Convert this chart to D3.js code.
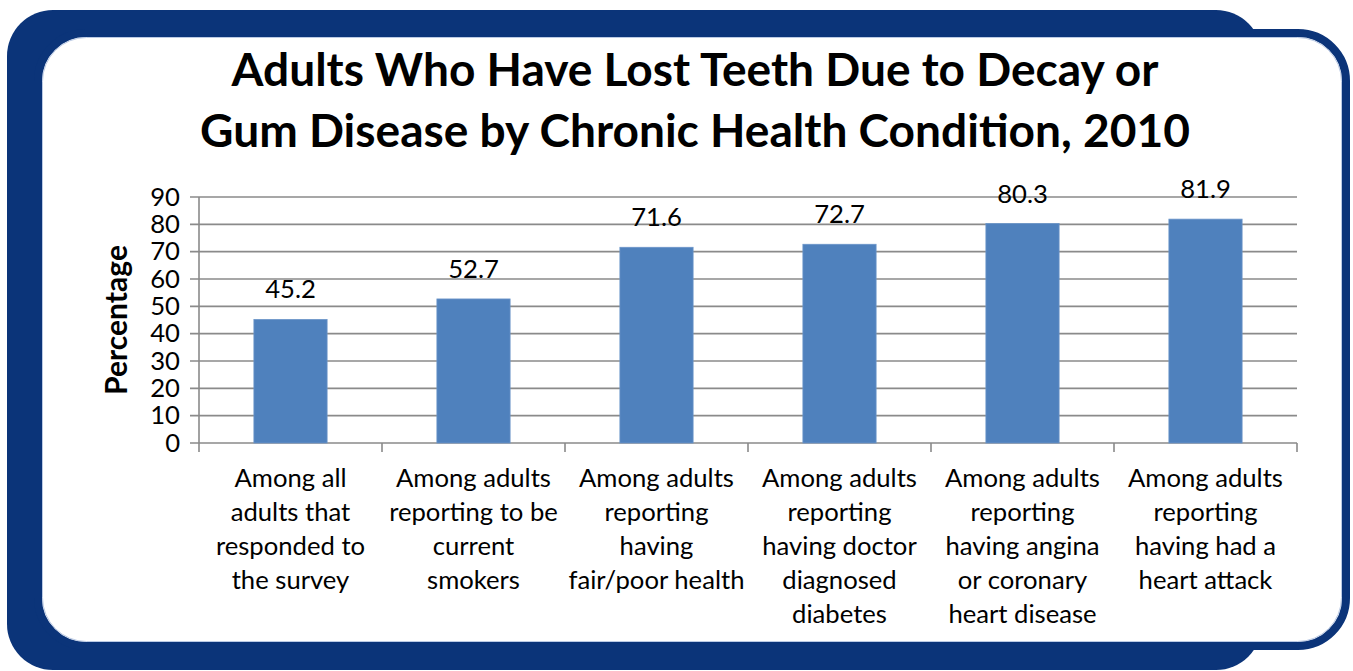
<!DOCTYPE html>
<html>
<head>
<meta charset="utf-8">
<script src="https://cdn.jsdelivr.net/npm/d3@7/dist/d3.min.js"></script>
<style>
  html, body { margin: 0; padding: 0; background: #ffffff; }
  svg { display: block; }
  text { font-family: Lato, "Open Sans", "Noto Sans", sans-serif; fill: #000; }
</style>
</head>
<body>
<svg id="chart" width="1353" height="671"></svg>
<script>
// Chart content
const titleLines = [
  "Adults Who Have Lost Teeth Due to Decay or",
  "Gum Disease by Chronic Health Condition, 2010"
];
const categories = [
  ["Among all", "adults that", "responded to", "the survey"],
  ["Among adults", "reporting to be", "current", "smokers"],
  ["Among adults", "reporting", "having", "fair/poor health"],
  ["Among adults", "reporting", "having doctor", "diagnosed", "diabetes"],
  ["Among adults", "reporting", "having angina", "or coronary", "heart disease"],
  ["Among adults", "reporting", "having had a", "heart attack"]
];
const values = [45.2, 52.7, 71.6, 72.7, 80.3, 81.9];
const yTicks = [0, 10, 20, 30, 40, 50, 60, 70, 80, 90];
const yAxisTitle = "Percentage";

const svg = d3.select("#chart");
const navy = "#0b3479";
const gridColor = "#8a8a8a";

// Measure a string at a given size, used to size text to its line width
function fitSize(str, weight, targetWidth) {
  const t = svg.append("text").attr("font-size", 40).attr("font-weight", weight).text(str);
  const w = t.node().getComputedTextLength();
  t.remove();
  return 40 * targetWidth / w;
}
const bodySize = fitSize("Among adults", "normal", 155);

// Frame: solid navy panel with an outlined white card on top
svg.append("rect")
  .attr("x", 7).attr("y", 10).attr("width", 1255).attr("height", 660)
  .attr("rx", 46).attr("ry", 46)
  .attr("fill", navy);
svg.append("rect")
  .attr("x", 38).attr("y", 33).attr("width", 1308).attr("height", 613)
  .attr("rx", 48).attr("ry", 48)
  .attr("fill", "#ffffff").attr("stroke", navy).attr("stroke-width", 8);
svg.append("rect")
  .attr("x", 42.5).attr("y", 37.5).attr("width", 1299).attr("height", 604)
  .attr("rx", 44).attr("ry", 44)
  .attr("fill", "none").attr("stroke", "#a9bcdd").attr("stroke-width", 0.8);

// Title, sized to fill its line width
const titleWidths = [927, 990];
const titleBase = [86, 147];
titleLines.forEach((line, i) => {
  svg.append("text")
    .attr("x", 695).attr("y", titleBase[i])
    .attr("text-anchor", "middle")
    .attr("font-weight", "bold")
    .attr("font-size", fitSize(line, "bold", titleWidths[i]))
    .text(line);
});

// Plot area
const plot = { left: 199, right: 1297, top: 197, bottom: 443 };

const x = d3.scaleBand()
  .domain(d3.range(categories.length))
  .range([plot.left, plot.right])
  .paddingInner(0.6).paddingOuter(0.3);

const xOuter = d3.scaleBand()
  .domain(d3.range(categories.length))
  .range([plot.left, plot.right]);

const y = d3.scaleLinear().domain([0, 90]).range([plot.bottom, plot.top]);

// Horizontal gridlines with left tick marks
svg.selectAll("line.grid")
  .data(yTicks)
  .join("line")
  .attr("class", "grid")
  .attr("x1", plot.left - 9).attr("x2", plot.right)
  .attr("y1", d => y(d)).attr("y2", d => y(d))
  .attr("stroke", gridColor).attr("stroke-width", 1.6);

// Y axis line
svg.append("line")
  .attr("x1", plot.left).attr("x2", plot.left)
  .attr("y1", plot.top).attr("y2", plot.bottom)
  .attr("stroke", gridColor).attr("stroke-width", 1.6);

// Category separator ticks below the baseline
svg.selectAll("line.xtick")
  .data(d3.range(categories.length + 1))
  .join("line")
  .attr("class", "xtick")
  .attr("x1", d => plot.left + d * xOuter.step())
  .attr("x2", d => plot.left + d * xOuter.step())
  .attr("y1", plot.bottom).attr("y2", plot.bottom + 9)
  .attr("stroke", gridColor).attr("stroke-width", 1.6);

// Y tick labels
svg.selectAll("text.ytick")
  .data(yTicks)
  .join("text")
  .attr("class", "ytick")
  .attr("x", 180)
  .attr("y", d => y(d) + 8.5)
  .attr("text-anchor", "end")
  .attr("font-size", bodySize)
  .text(d => d);

// Bars
svg.selectAll("rect.bar")
  .data(values)
  .join("rect")
  .attr("class", "bar")
  .attr("x", (d, i) => x(i))
  .attr("width", x.bandwidth())
  .attr("y", d => y(d))
  .attr("height", d => y(0) - y(d))
  .attr("fill", "#4f81bd")
  .attr("stroke", "#6b95c9").attr("stroke-width", 0.8);

// Value labels
svg.selectAll("text.value")
  .data(values)
  .join("text")
  .attr("class", "value")
  .attr("x", (d, i) => x(i) + x.bandwidth() / 2)
  .attr("y", d => y(d) - 21)
  .attr("text-anchor", "middle")
  .attr("font-size", bodySize)
  .text(d => d.toFixed(1));

// Category labels
categories.forEach((lines, i) => {
  const t = svg.append("text")
    .attr("text-anchor", "middle")
    .attr("font-size", bodySize);
  lines.forEach((ln, j) => {
    t.append("tspan")
      .attr("x", xOuter(i) + xOuter.bandwidth() / 2)
      .attr("y", 487 + j * 34)
      .text(ln);
  });
});

// Y axis title
svg.append("text")
  .attr("transform", "translate(127,320) rotate(-90)")
  .attr("text-anchor", "middle")
  .attr("font-weight", "bold")
  .attr("font-size", fitSize(yAxisTitle, "bold", 150))
  .text(yAxisTitle);
</script>
</body>
</html>
